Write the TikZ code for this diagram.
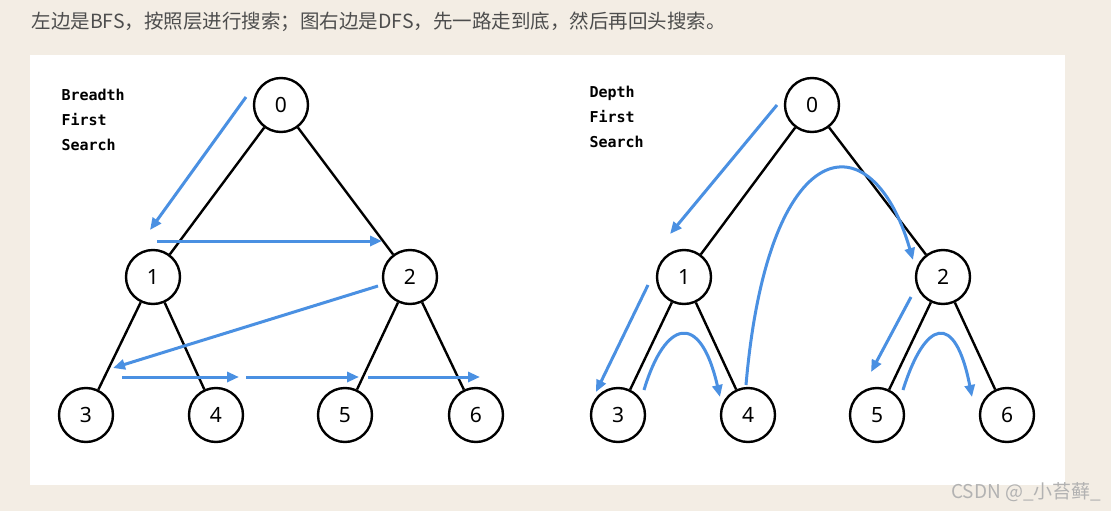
\documentclass[tikz,border=0pt]{standalone}
\usepackage{fontspec}
\setmainfont{Noto Sans}
\newfontfamily\cjk{Noto Sans CJK SC}
\newfontfamily\monof{DejaVu Sans Mono}
\usetikzlibrary{arrows.meta}
\definecolor{bg}{HTML}{F3EDE4}
\definecolor{arr}{HTML}{4A90E2}
\definecolor{txt}{HTML}{4D4D4D}
\begin{document}
\begin{tikzpicture}[x=1pt,y=-1pt,
  tn/.style={circle,draw=black,line width=2.4pt,fill=white,minimum size=54pt,inner sep=0pt,font=\fontsize{21}{21}\selectfont},
  ed/.style={line width=2.4pt},
  ba/.style={draw=arr,line width=3pt,-{Triangle[length=12pt,width=10pt]}},
  lab/.style={anchor=west,align=left,font=\monof\bfseries\fontsize{15}{25}\selectfont}]
\fill[bg] (0,0) rectangle (1111,511);
\useasboundingbox (0,0) rectangle (1111,511);
\fill[white] (30,55) rectangle (1065,485);
\node[anchor=west,text=txt,font=\cjk\fontsize{19.5}{19.5}\selectfont] (title) at (28,22) {左边是BFS，按照层进行搜索；图右边是DFS，先一路走到底，然后再回头搜索。};
\node[anchor=east,text=gray!60,font=\cjk\fontsize{19}{19}\selectfont] (wm) at (1105,492) {CSDN @\_小苔藓\_};
% left tree
\node[lab] (lb) at (58,120) {Breadth\\First\\Search};
\node[tn] (a0) at (281,105) {0};
\node[tn] (a1) at (153,277) {1};
\node[tn] (a2) at (410,277) {2};
\node[tn] (a3) at (86,415) {3};
\node[tn] (a4) at (216,415) {4};
\node[tn] (a5) at (345,415) {5};
\node[tn] (a6) at (476,415) {6};
\draw[ed] (a0)--(a1); \draw[ed] (a0)--(a2);
\draw[ed] (a1)--(a3); \draw[ed] (a1)--(a4);
\draw[ed] (a2)--(a5); \draw[ed] (a2)--(a6);
\coordinate (p1) at (246,97); \coordinate (p2) at (150,230);
\coordinate (p3) at (157,241); \coordinate (p4) at (382,241);
\coordinate (p5) at (378,286); \coordinate (p6) at (113,368);
\coordinate (p7) at (122,377); \coordinate (p8) at (239,377);
\coordinate (p9) at (246,377); \coordinate (p10) at (359,377);
\coordinate (p11) at (368,377); \coordinate (p12) at (480,377);
\draw[ba] (p1)--(p2); \draw[ba] (p3)--(p4); \draw[ba] (p5)--(p6);
\draw[ba] (p7)--(p8); \draw[ba] (p9)--(p10); \draw[ba] (p11)--(p12);
% right tree
\node[lab] (rb) at (586,117) {Depth\\First\\Search};
\node[tn] (b0) at (812,105) {0};
\node[tn] (b1) at (684,277) {1};
\node[tn] (b2) at (943,277) {2};
\node[tn] (b3) at (618,415) {3};
\node[tn] (b4) at (748,415) {4};
\node[tn] (b5) at (877,415) {5};
\node[tn] (b6) at (1007,415) {6};
\draw[ed] (b0)--(b1); \draw[ed] (b0)--(b2);
\draw[ed] (b1)--(b3); \draw[ed] (b1)--(b4);
\draw[ed] (b2)--(b5); \draw[ed] (b2)--(b6);
\coordinate (q1) at (777,105); \coordinate (q2) at (670,234);
\coordinate (q3) at (648,285); \coordinate (q4) at (596,392);
\coordinate (q5) at (644,390); \coordinate (q6) at (720,397);
\coordinate (q7) at (746,385); \coordinate (q8) at (913,260);
\coordinate (q9) at (911,297); \coordinate (q10) at (871,372);
\coordinate (q11) at (903,390); \coordinate (q12) at (972,397);
\draw[ba] (q1)--(q2); \draw[ba] (q3)--(q4);
\draw[ba] (q5) .. controls (665,320) and (700,310) .. (q6);
\draw[ba] (q7) .. controls (768,130) and (872,118) .. (q8);
\draw[ba] (q9)--(q10);
\draw[ba] (q11) .. controls (925,320) and (955,310) .. (q12);
\end{tikzpicture}
\end{document}
